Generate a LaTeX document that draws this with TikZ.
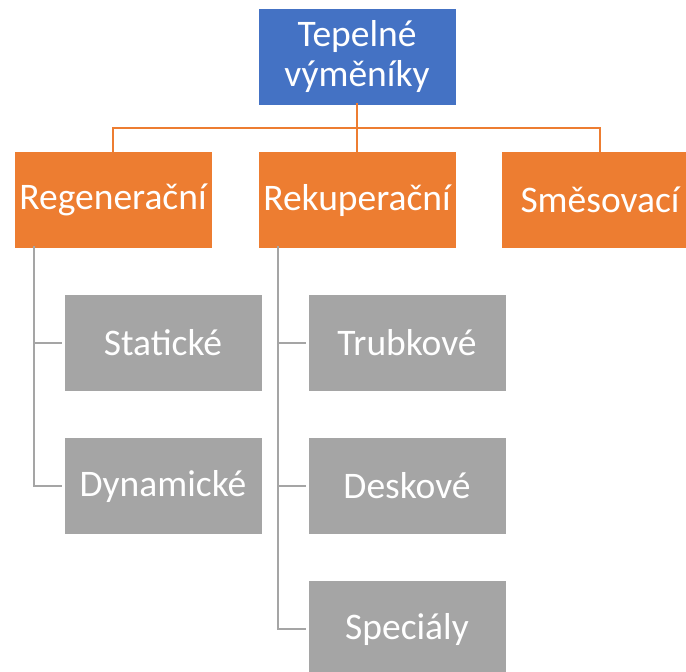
\documentclass[tikz,border=0pt]{standalone}
\usepackage{fontspec}
\setmainfont{Carlito}
\definecolor{cblue}{HTML}{4472C4}
\definecolor{corange}{HTML}{ED7D31}
\definecolor{cgray}{HTML}{A5A5A5}
\definecolor{cline}{HTML}{A5A5A5}
\begin{document}
\begin{tikzpicture}[x=1pt,y=-1pt,
  box/.style={minimum width=198pt,minimum height=97pt,inner sep=0pt,text=white,
    font=\fontsize{37.5}{40}\selectfont,align=center,draw=white,line width=0.6pt},
  topbox/.style={box,fill=cblue},
  midbox/.style={box,fill=corange},
  leafbox/.style={box,fill=cgray},
  oline/.style={draw=corange,line width=2.2pt},
  gline/.style={draw=cline,line width=2.2pt}]
\useasboundingbox (0,0) rectangle (686,672);
\clip (0,0) rectangle (686,672);
\node[topbox] (top) at (357,57) {Tepelné\\výměníky};
\node[midbox] (reg) at (113,200) {Regenerační};
\node[midbox] (rek) at (357,200) {Rekuperační};
\node[midbox] (sme) at (600,200) {Směsovací};
\node[leafbox] (sta) at (163,343) {Statické};
\node[leafbox] (dyn) at (163,486) {Dynamické};
\node[leafbox] (tru) at (407,343) {Trubkové};
\node[leafbox] (des) at (407,486) {Deskové};
\node[leafbox] (spe) at (407,629) {Speciály};
\coordinate (bus) at (357,128);
\draw[oline] ([yshift=3pt]top.south) -- (bus);
\draw[oline] ([yshift=-3pt]reg.north) |- (bus);
\draw[oline] ([yshift=-3pt]sme.north) |- (bus);
\draw[oline] ([yshift=-3pt]rek.north) -- (bus);
\coordinate (rl) at ([xshift=20pt,yshift=3pt]reg.south west);
\coordinate (kl) at ([xshift=20pt,yshift=3pt]rek.south west);
\draw[gline] (rl) |- ([xshift=-2pt]sta.west);
\draw[gline] (rl) |- ([xshift=-2pt]dyn.west);
\draw[gline] (kl) |- ([xshift=-2pt]tru.west);
\draw[gline] (kl) |- ([xshift=-2pt]des.west);
\draw[gline] (kl) |- ([xshift=-2pt]spe.west);
\end{tikzpicture}
\end{document}
